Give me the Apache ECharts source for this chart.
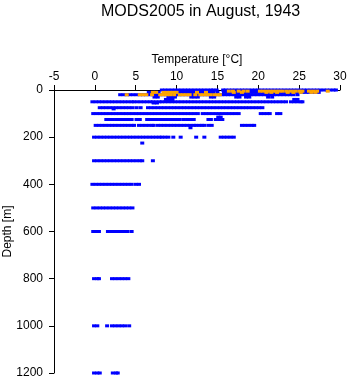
<!DOCTYPE html>
<html>
<head>
<meta charset="utf-8">
<script src="https://cdn.jsdelivr.net/npm/echarts@6/dist/echarts.min.js"></script>
<style>
  html, body { margin: 0; padding: 0; background: #fff; }
  #chart { width: 348px; height: 384px; }
</style>
</head>
<body>
<div id="chart"></div>
<script>
// Temperature profiles (°C) observed at each standard depth, August 1943.
// Blue: main cast records
const blue0 = [8.2, 8.6, 9.0, 9.4, 9.8, 10.2, 10.6, 11.0, 11.4, 11.8, 12.2, 12.6, 13.0, 13.4, 13.8, 14.2, 14.5, 14.9, 15.7, 16.0, 16.4, 16.8, 17.2, 17.6, 18.0, 18.4, 18.8, 19.2, 19.6, 20.0, 20.4, 20.8, 21.2, 21.6, 22.0, 22.4, 22.8, 23.2, 23.6, 24.0, 24.4, 24.8, 25.2, 25.6, 26.0, 26.4, 26.8, 27.2, 27.6, 28.0, 28.4, 28.8, 29.2, 29.5];
const blue10 = [6.6, 7.0, 7.4, 7.8, 8.5, 8.9, 9.3, 9.7, 10.1, 10.5, 10.9, 11.3, 11.7, 12.1, 12.5, 12.9, 13.3, 13.7, 14.1, 14.5, 15.0, 15.8, 16.2, 16.6, 17.0, 17.4, 17.8, 18.2, 18.6, 19.0, 19.4, 19.8, 20.2, 20.6, 21.0, 21.4, 21.8, 22.2, 22.6, 23.0, 23.4, 23.8, 24.2, 24.6, 25.0, 25.4, 25.8, 26.2, 26.6, 27.0, 27.4];
const blue20 = [3.1, 3.5, 3.9, 4.3, 4.7, 5.1, 5.5, 5.9, 6.3, 6.7, 7.1, 7.5, 7.9, 8.3, 8.7, 9.1, 9.5, 9.9, 10.3, 10.7, 11.1, 11.5, 11.9, 12.3, 12.7, 13.1, 13.5, 13.9, 14.3, 14.7, 15.1, 15.5, 15.9, 16.3, 16.7, 17.1, 17.5, 17.9, 18.3, 18.7, 19.1, 19.5, 19.9, 20.3, 20.7, 21.1, 21.5, 21.9, 22.3, 22.7, 23.1, 23.5, 23.9, 24.3, 24.8];
const blue30 = [7.3, 7.7, 9.0, 9.4, 9.8, 11.8, 12.2, 12.6, 14.2, 14.6, 17.3, 17.7, 18.5, 18.9, 21.2, 21.7];
const blue40 = [8.7, 9.1, 9.5, 24.4, 24.8];
const blue50 = [-0.3, 0.1, 0.5, 0.9, 1.3, 1.7, 2.1, 2.5, 2.9, 3.3, 3.7, 4.1, 4.5, 4.8, 5.2, 5.6, 6.0, 6.4, 6.8, 7.1, 7.5, 7.9, 8.2, 8.6, 9.0, 9.4, 9.8, 10.2, 10.6, 11.0, 11.4, 11.8, 12.2, 12.6, 13.0, 13.4, 13.8, 14.2, 14.6, 15.0, 15.4, 15.8, 16.2, 16.6, 17.0, 17.4, 17.8, 18.2, 18.6, 19.0, 19.4, 19.8, 20.2, 20.6, 21.0, 21.4, 21.8, 22.2, 22.6, 23.0, 23.4, 24.0, 24.4, 24.8, 25.2, 25.4];
const blue55 = [7.2, 7.6];
const blue75 = [0.6, 1.0, 1.4, 1.8, 2.2, 2.6, 3.0, 3.4, 3.8, 4.2, 4.6, 5.1, 5.6, 6.5, 6.9, 7.3, 7.7, 8.1, 8.5, 8.9, 9.3, 9.7, 10.1, 10.5, 10.9, 11.3, 11.7, 12.1, 12.5, 12.9, 13.3, 13.7, 14.1, 14.5, 14.9, 15.3, 15.7, 16.1, 16.5, 16.9, 17.3, 17.7, 18.1, 18.5, 18.9, 19.3, 19.7, 20.1, 20.5];
const blue80 = [2.3];
const blue100 = [-0.2, 0.2, 0.6, 1.0, 1.4, 1.8, 2.2, 2.6, 3.0, 3.4, 3.8, 4.2, 4.6, 5.0, 5.4, 5.8, 6.2, 6.6, 7.0, 7.4, 7.8, 8.2, 8.6, 9.0, 9.4, 9.8, 10.2, 10.6, 11.0, 11.4, 11.8, 12.2, 12.6, 13.2, 13.6, 14.0, 14.4, 14.8, 15.2, 15.6, 16.0, 16.4, 16.8, 17.2, 17.6, 20.3, 20.7, 21.1, 21.4, 22.3, 22.7];
const blue115 = [15.1, 15.4];
const blue125 = [1.4, 1.8, 2.2, 2.6, 3.0, 3.4, 3.7, 4.1, 4.5, 5.1, 5.5, 6.4, 6.8, 7.2, 7.6, 8.0, 8.4, 8.8, 9.2, 9.6, 10.0, 10.4, 10.9, 11.3, 11.7, 12.1, 13.9, 14.2, 14.8, 15.2, 15.6];
const blue150 = [0.1, 0.5, 0.9, 1.3, 1.7, 2.1, 2.5, 2.9, 3.3, 3.7, 4.1, 4.5, 4.8, 5.4, 5.8, 6.2, 6.6, 7.0, 7.2, 7.7, 8.1, 8.5, 8.9, 9.3, 9.7, 10.1, 10.5, 10.9, 11.3, 11.7, 12.1, 12.4, 12.8, 13.1, 13.4, 13.9, 14.3, 18.0, 18.4, 18.8, 19.2, 19.5];
const blue160 = [11.7];
const blue200 = [-0.1, 0.3, 0.7, 1.1, 1.5, 1.9, 2.3, 2.7, 3.1, 3.5, 3.9, 4.3, 4.7, 5.1, 5.5, 5.9, 6.3, 6.7, 7.1, 7.5, 7.9, 8.2, 8.6, 9.0, 9.6, 10.5, 12.4, 13.4, 15.4, 15.8, 16.2, 16.6, 17.0];
const blue225 = [5.8];
const blue300 = [-0.1, 0.3, 0.7, 1.1, 1.5, 1.9, 2.3, 2.7, 3.1, 3.5, 3.9, 4.3, 4.7, 5.1, 5.5, 5.8, 7.1];
const blue400 = [-0.3, 0.1, 0.5, 0.9, 1.3, 1.7, 2.1, 2.5, 2.9, 3.3, 3.7, 4.1, 4.5, 5.0, 5.4];
const blue500 = [-0.2, 0.2, 0.6, 1.0, 1.4, 1.8, 2.2, 2.6, 3.0, 3.4, 3.8, 4.2, 4.6];
const blue600 = [-0.2, 0.2, 0.5, 1.6, 2.0, 2.4, 2.8, 3.2, 3.6, 4.0, 4.5];
const blue800 = [-0.1, 0.3, 0.5, 2.1, 2.5, 2.9, 3.3, 3.7, 4.1];
const blue1000 = [-0.1, 0.3, 1.5, 2.1, 2.5, 2.9, 3.3, 3.7, 4.2];
const blue1200 = [-0.1, 0.3, 0.6, 2.2, 2.6, 2.8];

// Orange: surface bucket records
const orange5 = [16.4, 16.9, 17.6, 18.2, 18.7, 20.2, 20.6, 21.0, 21.4, 21.8, 22.2, 22.6, 23.0, 23.5, 24.0, 24.5, 25.0, 25.4, 26.2, 26.7, 27.2, 28.5];
const orange10 = [7.1, 7.5, 8.4, 8.8, 9.2, 9.6, 10.0, 12.5, 13.6, 17.0, 18.0, 21.0, 21.6, 22.3, 23.6, 24.3, 25.2, 26.5, 27.0];
const orange20 = [3.9, 5.5, 5.9, 6.3, 7.0, 8.0, 8.4, 8.8, 9.2, 9.7, 10.4, 10.8, 11.2, 11.6, 12.3, 12.9, 13.3, 13.7, 14.1, 14.6, 15.0, 15.3];

// Depth (m) paired with each temperature row
const blueRows = [
  [0, blue0], [10, blue10], [20, blue20], [30, blue30], [40, blue40], [50, blue50],
  [55, blue55], [75, blue75], [80, blue80], [100, blue100], [115, blue115], [125, blue125],
  [150, blue150], [160, blue160], [200, blue200], [225, blue225], [300, blue300],
  [400, blue400], [500, blue500], [600, blue600], [800, blue800], [1000, blue1000], [1200, blue1200]
];
const orangeRows = [[5, orange5], [10, orange10], [20, orange20]];

const tempTicks = [-5, 0, 5, 10, 15, 20, 25, 30];
const depthTicks = [0, 200, 400, 600, 800, 1000, 1200];

function toPoints(rows) {
  const pts = [];
  rows.forEach(([depth, temps]) => temps.forEach(t => pts.push([t, depth])));
  return pts;
}

const font = '"Liberation Sans", Arial, Helvetica, sans-serif';
const chart = echarts.init(document.getElementById('chart'), null, { renderer: 'canvas' });

chart.setOption({
  animation: false,
  backgroundColor: '#ffffff',
  title: {
    text: 'MODS2005 in August, 1943',
    left: 96,
    top: -1,
    textStyle: { fontFamily: font, fontSize: 16, fontWeight: 'normal', color: '#000' }
  },
  grid: { left: 54, right: 8, top: 90, bottom: 11, containLabel: false, outerBoundsMode: 'none' },
  xAxis: {
    type: 'value',
    position: 'top',
    min: tempTicks[0],
    max: tempTicks[tempTicks.length - 1],
    interval: 5,
    name: 'Temperature [°C]',
    nameLocation: 'middle',
    nameGap: 24,
    nameMoveOverlap: false,
    nameTextStyle: { fontFamily: font, fontSize: 12, color: '#000' },
    axisLine: { onZero: false, lineStyle: { color: '#000', width: 1 } },
    axisTick: { length: 5, lineStyle: { color: '#000' } },
    axisLabel: { fontFamily: font, fontSize: 12, color: '#000', margin: 7, formatter: v => String(v) },
    splitLine: { show: false }
  },
  yAxis: {
    type: 'value',
    inverse: true,
    min: depthTicks[0],
    max: depthTicks[depthTicks.length - 1],
    interval: 200,
    name: 'Depth [m]',
    nameLocation: 'middle',
    nameGap: 40,
    nameMoveOverlap: false,
    nameRotate: 90,
    nameTextStyle: { fontFamily: font, fontSize: 12, color: '#000' },
    axisLine: { show: true, onZero: false, lineStyle: { color: '#000', width: 1 } },
    axisTick: { show: true, length: 5, lineStyle: { color: '#000' } },
    axisLabel: { fontFamily: font, fontSize: 12, color: '#000', margin: 11, formatter: v => String(v) },
    splitLine: { show: false }
  },
  series: [
    {
      type: 'scatter',
      name: 'cast',
      symbol: 'rect',
      symbolSize: [4, 3],
      itemStyle: { color: '#0000ff', opacity: 1 },
      data: toPoints(blueRows),
      z: 2
    },
    {
      type: 'scatter',
      name: 'bucket',
      symbol: 'rect',
      symbolSize: [4, 3],
      itemStyle: { color: '#ffa500', opacity: 1 },
      data: toPoints(orangeRows),
      z: 3
    }
  ]
});
</script>
</body>
</html>
